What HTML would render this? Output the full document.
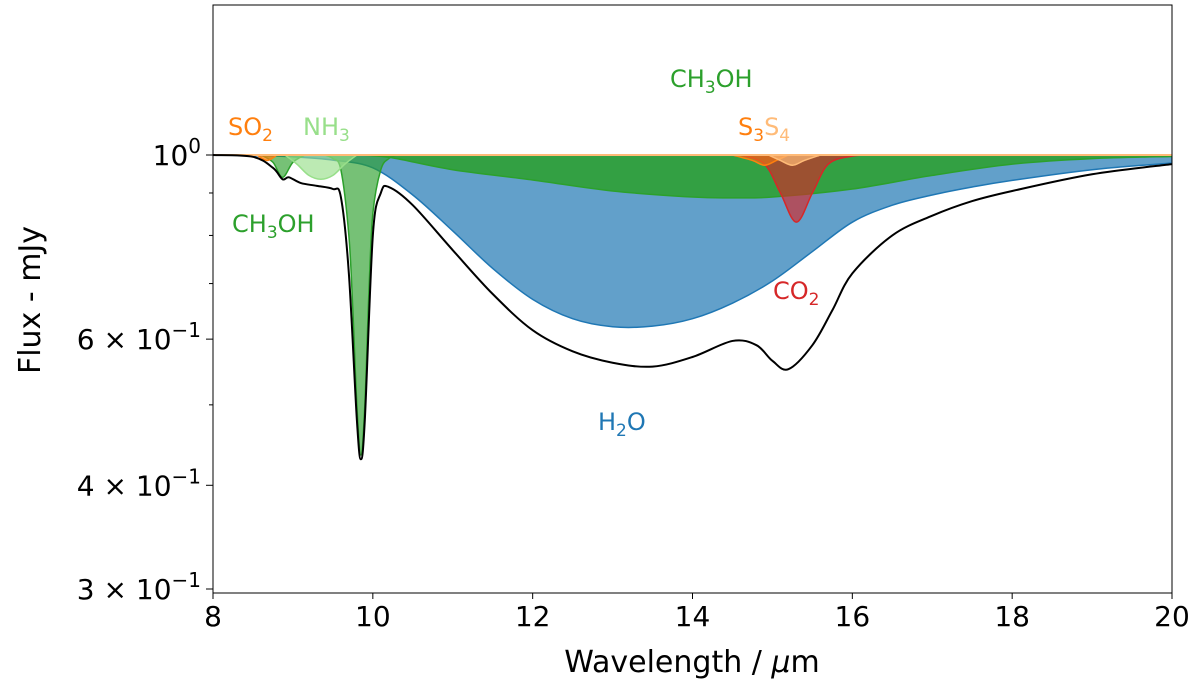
<!DOCTYPE html>
<html><head><meta charset="utf-8"><style>
body{margin:0;background:#fff}
svg{font-family:"DejaVu Sans","Liberation Sans",sans-serif}
</style></head><body>
<svg id="c" width="1200" height="687" xmlns="http://www.w3.org/2000/svg">
</svg>
<script>
const NS="http://www.w3.org/2000/svg";
// data arrays (wavelength in µm, flux in mJy)
const waterX=[8,8.5,9,9.5,10,10.5,11,11.5,12,12.5,13,13.5,14,14.5,15,15.5,16,16.5,17,17.5,18,19,20];
const waterY=[1,0.998,0.995,0.986,0.965,0.895,0.81,0.73,0.67,0.635,0.621,0.622,0.635,0.663,0.705,0.765,0.83,0.87,0.895,0.915,0.932,0.96,0.978];
const ch3ohBroadX=[9.8,10,10.3,11,12,13,14,14.5,15,16,17,18,19,20];
const ch3ohBroadY=[1,0.998,0.99,0.96,0.933,0.905,0.89,0.888,0.89,0.91,0.945,0.975,0.99,0.996];
const ch3ohNarrowX=[9.4,9.5,9.6,9.7,9.75,9.8,9.85,9.9,9.95,10,10.1,10.2,10.3];
const ch3ohNarrowY=[1,0.99,0.96,0.8,0.65,0.5,0.435,0.5,0.68,0.85,0.96,0.99,1];
const ch3ohSmallX=[8.6,8.75,8.87,9.0,9.15];
const ch3ohSmallY=[1,0.98,0.94,0.98,1];
const nh3X=[8.9,9.05,9.2,9.35,9.5,9.65,9.8];
const nh3Y=[1,0.975,0.945,0.935,0.945,0.975,1];
const so2X=[8.55,8.68,8.8];
const so2Y=[1,0.985,1];
const co2X=[14.6,14.9,15.1,15.3,15.5,15.7,16.0,16.3];
const co2Y=[1,0.975,0.9,0.83,0.9,0.975,0.997,1];
const s3X=[14.5,14.75,14.9,15.05,15.2];
const s3Y=[1,0.985,0.972,0.985,1];
const s4X=[14.95,15.1,15.25,15.4,15.6];
const s4Y=[1,0.985,0.972,0.985,1];
const totalX=[8,8.5,8.75,8.87,8.95,9.1,9.3,9.5,9.6,9.7,9.8,9.85,9.9,10,10.1,10.2,10.5,11,11.5,12,12.5,13,13.5,14,14.5,14.8,15.0,15.2,15.5,15.75,16,16.5,17,17.5,18,19,20];
const totalY=[1,0.995,0.965,0.935,0.94,0.925,0.918,0.91,0.89,0.72,0.48,0.43,0.48,0.8,0.9,0.915,0.87,0.768,0.68,0.615,0.58,0.562,0.556,0.571,0.597,0.59,0.565,0.552,0.59,0.65,0.72,0.8,0.845,0.88,0.905,0.948,0.975];
const xTicks=[8,10,12,14,16,18,20];
const yTicks=[1,0.6,0.4,0.3];
const yTickLabels=[["10","0"],["6 × 10","−1"],["4 × 10","−1"],["3 × 10","−1"]];

const L=213,R=1172,T=5,B=593;
const X=v=>L+(v-8)*(R-L)/12;
const Y=f=>155-Math.log10(f)*830;
const svg=document.getElementById('c');
function el(t,a,p){const e=document.createElementNS(NS,t);for(const k in a)e.setAttribute(k,a[k]);(p||svg).appendChild(e);return e;}
function curve(xs,ys){
  const p=xs.map((x,i)=>[X(x),Y(ys[i])]);
  let d=`M${p[0][0]},${p[0][1]}`;
  for(let i=0;i<p.length-1;i++){
    const p0=p[i-1]||p[i],p1=p[i],p2=p[i+1],p3=p[i+2]||p[i+1];
    const c1=[p1[0]+(p2[0]-p0[0])/6,p1[1]+(p2[1]-p0[1])/6];
    const c2=[p2[0]-(p3[0]-p1[0])/6,p2[1]-(p3[1]-p1[1])/6];
    d+=`C${c1[0]},${c1[1]} ${c2[0]},${c2[1]} ${p2[0]},${p2[1]}`;
  }
  return d;
}
const clip=el('clipPath',{id:'pc'},el('defs',{}));
el('rect',{x:L,y:T,width:R-L,height:B-T},clip);
const g=el('g',{'clip-path':'url(#pc)'});
function band(xs,ys,col,alpha,name){
  const d=curve(xs,ys)+`L${X(xs[xs.length-1])},${Y(1)}L${X(xs[0])},${Y(1)}Z`;
  const e=el('path',{d,fill:col,'fill-opacity':alpha,stroke:col,'stroke-width':1.5},g);
  
  
}
band(waterX,waterY,'#1f77b4',0.7,'h2o-band');
band(ch3ohBroadX,ch3ohBroadY,'#2ca02c',0.85,'ch3oh-broad-band');
band(ch3ohNarrowX,ch3ohNarrowY,'#2ca02c',0.65,'ch3oh-narrow-band');
band(ch3ohSmallX,ch3ohSmallY,'#2ca02c',0.65,'ch3oh-small-band');
band(nh3X,nh3Y,'#98df8a',0.65,'nh3-band');
band(so2X,so2Y,'#ff7f0e',0.7,'so2-band');
band(co2X,co2Y,'#d62728',0.65,'co2-band');
band(s3X,s3Y,'#ff7f0e',0.5,'s3-band');
band(s4X,s4Y,'#ffbb78',0.7,'s4-band');
el('line',{x1:L,x2:R,y1:Y(1),y2:Y(1),stroke:'#ffbb78','stroke-width':2},g);
const tl=el('path',{d:curve(totalX,totalY),fill:'none',stroke:'#000','stroke-width':2},g);


el('rect',{x:L,y:T,width:R-L,height:B-T,fill:'none',stroke:'#000','stroke-width':1,});
xTicks.forEach(v=>{
  el('line',{x1:X(v),x2:X(v),y1:B,y2:B+6,stroke:'#000'});
  const t=el('text',{x:X(v),y:B+33,'font-size':28,'text-anchor':'middle'});t.textContent=v;
  
  
});
[0.5,0.7,0.8,0.9].forEach(v=>el('line',{x1:L-4,x2:L,y1:Y(v),y2:Y(v),stroke:'#000'}));
yTicks.forEach((v,i)=>{
  el('line',{x1:L-7,x2:L,y1:Y(v),y2:Y(v),stroke:'#000'});
  const t=el('text',{x:L-12,y:Y(v)+10,'font-size':28,'text-anchor':'end'});
  
  
  t.innerHTML=`${yTickLabels[i][0]}<tspan dy="-12" font-size="20">${yTickLabels[i][1]}</tspan>`;
});
</script>
<svg width="1200" height="687" style="position:absolute;left:0;top:0" font-family="DejaVu Sans, Liberation Sans, sans-serif">
<text x="692" y="672" font-size="30" text-anchor="middle">Wavelength / <tspan font-style="italic">μ</tspan>m</text>
<text transform="translate(40,300) rotate(-90)" font-size="30" text-anchor="middle">Flux - mJy</text>
<g font-size="24">
<text x="670" y="87" fill="#2ca02c">CH<tspan font-size="17" dy="6">3</tspan><tspan dy="-6">OH</tspan></text>
<text x="738" y="135" fill="#ff7f0e">S<tspan font-size="17" dy="6">3</tspan><tspan dy="-6" fill="#ffbb78">S</tspan><tspan font-size="17" dy="6" fill="#ffbb78">4</tspan></text>
<text x="228" y="135" fill="#ff7f0e">SO<tspan font-size="17" dy="6">2</tspan></text>
<text x="303" y="135" fill="#98df8a">NH<tspan font-size="17" dy="6">3</tspan></text>
<text x="232" y="232" fill="#2ca02c">CH<tspan font-size="17" dy="6">3</tspan><tspan dy="-6">OH</tspan></text>
<text x="773" y="299" fill="#d62728">CO<tspan font-size="17" dy="6">2</tspan></text>
<text x="598" y="430" fill="#1f77b4">H<tspan font-size="17" dy="6">2</tspan><tspan dy="-6">O</tspan></text>
</g>
</svg>
</body></html>
